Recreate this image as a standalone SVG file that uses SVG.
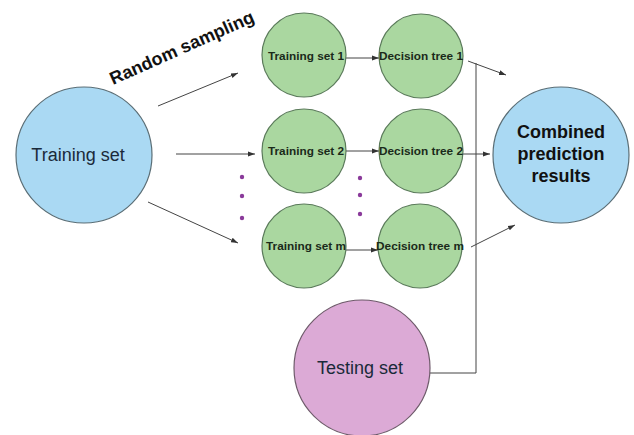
<svg xmlns="http://www.w3.org/2000/svg" width="634" height="435" viewBox="0 0 634 435">
<style>
.blue{fill:#aad9f3;stroke:#5a6e76;stroke-width:1.2}
.green{fill:#aad7a0;stroke:#5a7a5a;stroke-width:1.2}
.pink{fill:#dcaad6;stroke:#6e5a6a;stroke-width:1.2}
.small{font-family:"Liberation Sans",Arial,sans-serif;font-weight:bold;font-size:11.8px;fill:#1a2a1a;text-anchor:middle}
.big{font-family:"Liberation Sans",Arial,sans-serif;font-size:18px;fill:#1a2a3a;text-anchor:middle}
.bigb{font-family:"Liberation Sans",Arial,sans-serif;font-weight:bold;font-size:18px;fill:#111;text-anchor:middle}
.ln{stroke:#444;stroke-width:1;fill:none}
.dot{fill:#8a3a9a}
</style>
<defs>
<marker id="ah" viewBox="0 0 10 10" refX="10" refY="5" markerWidth="7" markerHeight="7" markerUnits="userSpaceOnUse" orient="auto">
<path d="M0,1.5 L10,5 L0,8.5 z" fill="#333"/>
</marker>
</defs>
<rect width="634" height="435" fill="#fff"/>
<g id="connectors">
<line class="ln" x1="158" y1="106" x2="238" y2="73" marker-end="url(#ah)"/>
<line class="ln" x1="176" y1="154" x2="255" y2="154" marker-end="url(#ah)"/>
<line class="ln" x1="148" y1="202" x2="238" y2="243" marker-end="url(#ah)"/>
<line class="ln" x1="346" y1="58" x2="379" y2="58" marker-end="url(#ah)"/>
<line class="ln" x1="345" y1="151" x2="379" y2="151" marker-end="url(#ah)"/>
<line class="ln" x1="346" y1="250" x2="378" y2="250" marker-end="url(#ah)"/>
<line class="ln" x1="468" y1="61" x2="506" y2="75" marker-end="url(#ah)"/>
<line class="ln" x1="459" y1="154" x2="490" y2="154" marker-end="url(#ah)"/>
<line class="ln" x1="471" y1="247" x2="515" y2="225" marker-end="url(#ah)"/>
<polyline class="ln" points="430,373 476,373 476,63"/>
</g>
<g id="dots">
<circle class="dot" cx="242" cy="177" r="2.2"/>
<circle class="dot" cx="242" cy="196" r="2.2"/>
<circle class="dot" cx="242" cy="218" r="2.2"/>
<circle class="dot" cx="360" cy="178" r="2.2"/>
<circle class="dot" cx="360" cy="195" r="2.2"/>
<circle class="dot" cx="360" cy="214" r="2.2"/>
</g>
<text id="random-sampling" transform="translate(113,85) rotate(-24)" font-family="Liberation Sans,Arial,sans-serif" font-weight="bold" font-size="18" fill="#111">Random sampling</text>
<g id="training-set">
<circle class="blue" cx="84" cy="155" r="68"/>
<text class="big" x="78" y="161">Training set</text>
</g>
<g id="training-set-1">
<circle class="green" cx="304" cy="55" r="42"/>
<text class="small" x="306" y="60">Training set 1</text>
</g>
<g id="training-set-2">
<circle class="green" cx="304" cy="151" r="42"/>
<text class="small" x="306" y="155">Training set 2</text>
</g>
<g id="training-set-m">
<circle class="green" cx="304" cy="246" r="42"/>
<text class="small" x="306" y="250">Training set m</text>
</g>
<g id="decision-tree-1">
<circle class="green" cx="421" cy="56" r="42"/>
<text class="small" x="421" y="60">Decision tree 1</text>
</g>
<g id="decision-tree-2">
<circle class="green" cx="421" cy="151" r="42"/>
<text class="small" x="421" y="155">Decision tree 2</text>
</g>
<g id="decision-tree-m">
<circle class="green" cx="420" cy="246" r="42"/>
<text class="small" x="420" y="250">Decision tree m</text>
</g>
<g id="combined">
<circle class="blue" cx="561" cy="155" r="68"/>
<text class="bigb" x="561" y="138">Combined</text>
<text class="bigb" x="561" y="160">prediction</text>
<text class="bigb" x="561" y="182">results</text>
</g>
<g id="testing-set">
<circle class="pink" cx="362" cy="368" r="68"/>
<text class="big" x="360" y="374">Testing set</text>
</g>
</svg>
